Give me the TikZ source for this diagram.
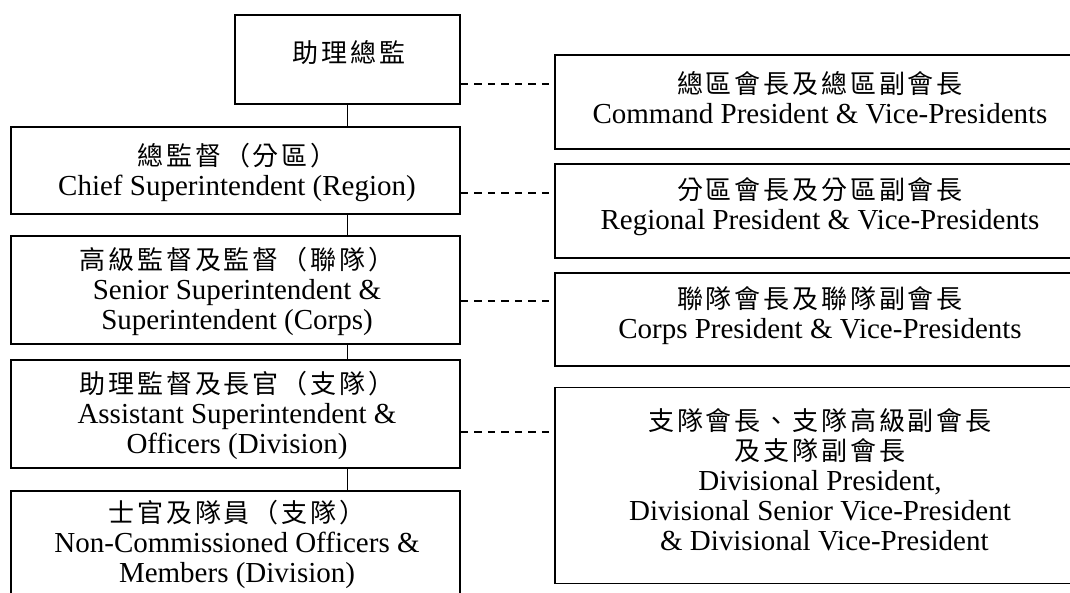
\documentclass[tikz,border=0pt]{standalone}
\usepackage{fontspec}
\setmainfont{Liberation Serif}
\newfontfamily\cjk{Noto Sans CJK TC}[LetterSpace=11]
\newcommand\zh[1]{{\cjk\fontsize{26}{30}\selectfont #1}}
\begin{document}
\begin{tikzpicture}[x=1pt,y=-1pt,
  box/.style={draw, line width=1.8pt, inner sep=0pt, fill=white},
  lbl/.style={align=center, inner sep=0pt, font=\fontsize{29}{30}\selectfont},
  solidline/.style={line width=1.5pt},
  dashline/.style={line width=1.8pt, dash pattern=on 7.5pt off 6pt}]
\clip (0,0) rectangle (1070,592);
\fill[white] (0,0) rectangle (1070,592);
% left column boxes
\node[box, minimum width=225pt, minimum height=89pt] (top) at (347.5,59.5) {};
\node[box, minimum width=449pt, minimum height=87pt] (chief) at (235.5,170.5) {};
\node[box, minimum width=449pt, minimum height=108pt] (senior) at (235.5,290) {};
\node[box, minimum width=449pt, minimum height=108pt] (assist) at (235.5,414) {};
\node[box, minimum width=449pt, minimum height=107pt] (nco) at (235.5,544.5) {};
% right column boxes
\node[box, minimum width=527pt, minimum height=94pt] (cmd) at (818.5,102) {};
\node[box, minimum width=527pt, minimum height=94pt] (reg) at (818.5,211) {};
\node[box, minimum width=527pt, minimum height=93pt] (corps) at (818.5,319.5) {};
\node[box, minimum width=527pt, minimum height=196pt] (div) at (818.5,485.5) {};
% texts
\node[lbl] (ttop) at (349,52.5) {\zh{助理總監}};
\node[lbl] (tchief) at (237,172) {\zh{總監督（分區）}\\Chief Superintendent (Region)};
\node[lbl] (tsenior) at (237,291) {\zh{高級監督及監督（聯隊）}\\Senior Superintendent \&\\Superintendent (Corps)};
\node[lbl] (tassist) at (237,415) {\zh{助理監督及長官（支隊）}\\Assistant Superintendent \&\\Officers (Division)};
\node[lbl] (tnco) at (237,544) {\zh{士官及隊員（支隊）}\\Non-Commissioned Officers \&\\Members (Division)};
\node[lbl] (tcmd) at (820,98) {\zh{總區會長及總區副會長}\\Command President \& Vice-Presidents};
\node[lbl] (treg) at (820,207) {\zh{分區會長及分區副會長}\\Regional President \& Vice-Presidents};
\node[lbl] (tcorps) at (820,316) {\zh{聯隊會長及聯隊副會長}\\Corps President \& Vice-Presidents};
\node[lbl] (tdiv) at (820,480) {\zh{支隊會長、支隊高級副會長}\\\zh{及支隊副會長}\\Divisional President,\\Divisional Senior Vice-President\\\hspace*{0.3em}\& Divisional Vice-President};
% vertical connectors
\draw[solidline] (top.south) -- (top.south |- chief.north);
\draw[solidline] (chief.south -| top.south) -- (senior.north -| top.south);
\draw[solidline] (senior.south -| top.south) -- (assist.north -| top.south);
\draw[solidline] (assist.south -| top.south) -- (nco.north -| top.south);
% dashed connectors
\coordinate (d1) at (0,84);
\coordinate (d2) at (0,192.7);
\coordinate (d3) at (0,301);
\coordinate (d4) at (0,431.7);
\draw[dashline] (top.east |- d1) -- (cmd.west |- d1);
\draw[dashline] (chief.east |- d2) -- (reg.west |- d2);
\draw[dashline] (senior.east |- d3) -- (corps.west |- d3);
\draw[dashline] (assist.east |- d4) -- (div.west |- d4);
\end{tikzpicture}
\end{document}
